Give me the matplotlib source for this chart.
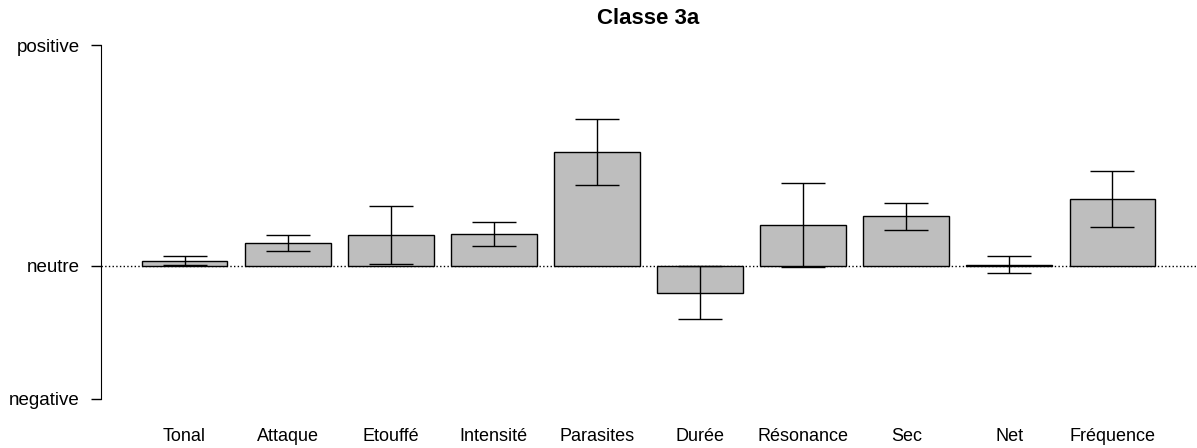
import matplotlib.pyplot as plt
import numpy as np

plt.rcParams['font.family'] = ['Liberation Sans', 'DejaVu Sans']

labels = ["Tonal", "Attaque", "Etouffé", "Intensité", "Parasites",
          "Durée", "Résonance", "Sec", "Net", "Fréquence"]
means = [0.023, 0.104, 0.140, 0.146, 0.516, -0.121, 0.186, 0.224, 0.006, 0.304]
errors = [0.020, 0.037, 0.130, 0.054, 0.150, 0.120, 0.190, 0.062, 0.039, 0.126]
ytick_vals = [-0.6, 0, 1]
ytick_labels = ["negative", "neutre", "positive"]

# R barplot style positions: width 1, space 0.2
x = 0.7 + 1.2 * np.arange(len(labels))

fig = plt.figure(figsize=(11.97, 4.48), dpi=100)
ax = fig.add_axes([101 / 1197, 1 - 412.7 / 448, 1095 / 1197, (412.7 - 30.9) / 448])

ax.axhline(0, color='black', linestyle=':', linewidth=1, zorder=1)
ax.bar(x, means, width=1, color='#bebebe', edgecolor='black', linewidth=1, zorder=2)
ax.errorbar(x, means, yerr=errors, fmt='none', ecolor='black', elinewidth=1,
            capsize=15.8, capthick=1, zorder=3)

ax.set_xlim(-0.272, 12.472)
ax.set_ylim(-0.664, 1.064)

ax.set_yticks(ytick_vals)
ax.set_yticklabels(ytick_labels, fontsize=13.5)
ax.set_xticks(x)
ax.set_xticklabels(labels, fontsize=13)
ax.tick_params(axis='y', length=7.2, width=1, pad=8)
ax.tick_params(axis='x', length=0, pad=11)

for side in ['top', 'right', 'bottom']:
    ax.spines[side].set_visible(False)
ax.spines['left'].set_bounds(-0.6, 1)

ax.set_title("Classe 3a", fontsize=16, fontweight='bold', pad=5)

fig.savefig("out.png", dpi=100)
